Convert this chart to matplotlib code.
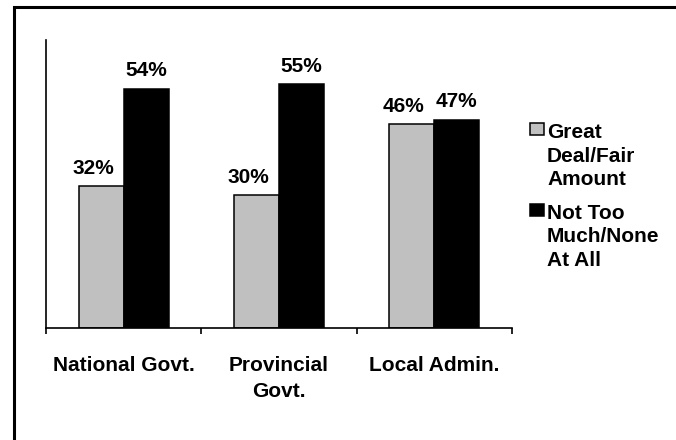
import matplotlib
matplotlib.use('Agg')
import matplotlib.pyplot as plt
from matplotlib.patches import Rectangle
from matplotlib.legend_handler import HandlerPatch
import numpy as np

# data
categories = ['National Govt.', 'Provincial\nGovt.', 'Local Admin.']
great_deal = [32, 30, 46]
not_much = [54, 55, 47]
series_names = ['Great\nDeal/Fair\nAmount', 'Not Too\nMuch/None\nAt All']

plt.rcParams['font.family'] = ['Liberation Sans', 'DejaVu Sans']
plt.rcParams['font.weight'] = 'bold'

fig = plt.figure(figsize=(6.76, 4.40), dpi=100)
ax = fig.add_axes([46 / 676, (440 - 328) / 440, 466 / 676, 288 / 440])

x = np.arange(len(categories))
w = 0.29
b1 = ax.bar(x - w / 2, great_deal, w, color='#c0c0c0', edgecolor='black', linewidth=1.1)
b2 = ax.bar(x + w / 2, not_much, w, color='black', edgecolor='black', linewidth=1.1)

# value labels, the grey ones sit a bit to the left
for bars, vals, dx in [(b1, great_deal, -5.8), (b2, not_much, 0)]:
    for r, v in zip(bars, vals):
        ax.annotate(f'{v}%', (r.get_x() + r.get_width() / 2, v),
                    xytext=(dx, 9.0), textcoords='offset points',
                    ha='center', va='baseline', fontsize=15, fontweight='bold')

ax.set_xlim(-0.5, len(categories) - 0.5)
ax.set_ylim(0, 65)
ax.spines['top'].set_visible(False)
ax.spines['right'].set_visible(False)
for s in ['left', 'bottom']:
    ax.spines[s].set_linewidth(1.2)
ax.set_yticks([])

ax.set_xticks(np.arange(len(categories) + 1) - 0.5)
ax.set_xticklabels([])
ax.tick_params(axis='x', which='major', direction='out', length=4.5, width=1.2)
ax.set_xticks(x, minor=True)
ax.set_xticklabels(categories, minor=True, fontsize=15, fontweight='bold', linespacing=1.5)
ax.tick_params(axis='x', which='minor', length=0, pad=20)


# legend square sits next to the first line of each label
def top_square(legend, orig_handle, xdescent, ydescent, width, height, fontsize):
    top = 1.96 * fontsize
    size = 0.58 * fontsize
    return Rectangle((-xdescent, top - size), width, size)


leg = ax.legend(handles=[b1[0], b2[0]], labels=series_names, loc='upper left',
                bbox_to_anchor=(530 / 676, (440 - 123) / 440), bbox_transform=fig.transFigure,
                frameon=False, borderpad=0, borderaxespad=0,
                handlelength=0.67, handleheight=0.58, handletextpad=0.15, labelspacing=0.72,
                prop={'size': 15, 'weight': 'bold'},
                handler_map={Rectangle: HandlerPatch(patch_func=top_square)})
for t in leg.get_texts():
    t.set_linespacing(1.3)

# outer frame (only top and left edges visible in the crop)
fig.add_artist(Rectangle((13.5 / 676, -0.1), 1.2, (440 - 7.5) / 440 + 0.1,
                         transform=fig.transFigure, fill=False, edgecolor='black',
                         linewidth=2.2, clip_on=False))

fig.savefig('out.png', dpi=100)
